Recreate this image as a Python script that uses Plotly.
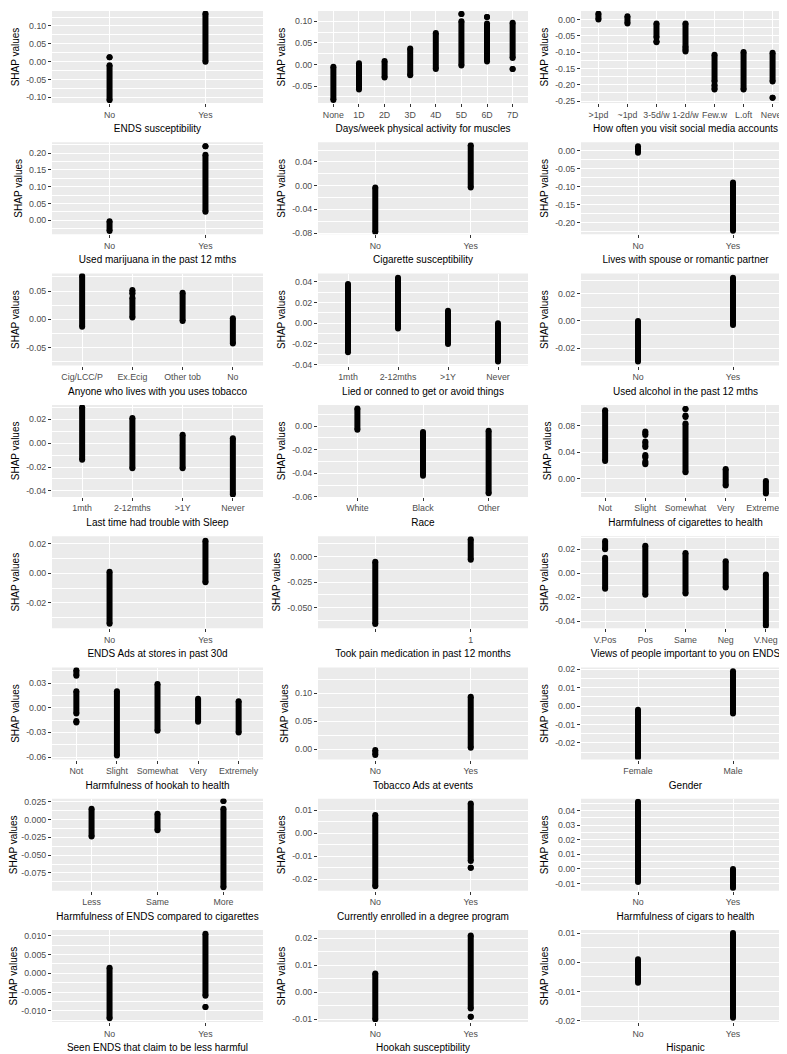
import plotly.graph_objects as go

# each panel: x title, category labels, y ticks (values, labels), y range,
# strips per category as (low, high) runs of overlapping points
titles = [
    "ENDS susceptibility", "Days/week physical activity for muscles", "How often you visit social media accounts",
    "Used marijuana in the past 12 mths", "Cigarette susceptibility", "Lives with spouse or romantic partner",
    "Anyone who lives with you uses tobacco", "Lied or conned to get or avoid things", "Used alcohol in the past 12 mths",
    "Last time had trouble with Sleep", "Race", "Harmfulness of cigarettes to health",
    "ENDS Ads at stores in past 30d", "Took pain medication in past 12 months", "Views of people important to you on ENDS",
    "Harmfulness of hookah to health", "Tobacco Ads at events", "Gender",
    "Harmfulness of ENDS compared to cigarettes", "Currently enrolled in a degree program", "Harmfulness of cigars to health",
    "Seen ENDS that claim to be less harmful", "Hookah susceptibility", "Hispanic",
]

categories = [
    ["No", "Yes"], ["None", "1D", "2D", "3D", "4D", "5D", "6D", "7D"],
    [">1pd", "~1pd", "3-5d/w", "1-2d/w", "Few.w", "L.oft", "Never"],
    ["No", "Yes"], ["No", "Yes"], ["No", "Yes"],
    ["Cig/LCC/P", "Ex.Ecig", "Other tob", "No"], ["1mth", "2-12mths", ">1Y", "Never"], ["No", "Yes"],
    ["1mth", "2-12mths", ">1Y", "Never"], ["White", "Black", "Other"], ["Not", "Slight", "Somewhat", "Very", "Extremely"],
    ["No", "Yes"], ["", "1"], ["V.Pos", "Pos", "Same", "Neg", "V.Neg"],
    ["Not", "Slight", "Somewhat", "Very", "Extremely"], ["No", "Yes"], ["Female", "Male"],
    ["Less", "Same", "More"], ["No", "Yes"], ["No", "Yes"],
    ["No", "Yes"], ["No", "Yes"], ["No", "Yes"],
]

yticks = [
    [-0.10, -0.05, 0.0, 0.05, 0.10], [-0.05, 0.0, 0.05, 0.10], [-0.25, -0.20, -0.15, -0.10, -0.05, 0.0],
    [0.0, 0.05, 0.10, 0.15, 0.20], [-0.08, -0.04, 0.0, 0.04], [-0.20, -0.15, -0.10, -0.05, 0.0],
    [-0.05, 0.0, 0.05], [-0.04, -0.02, 0.0, 0.02, 0.04], [-0.02, 0.0, 0.02],
    [-0.04, -0.02, 0.0, 0.02], [-0.06, -0.04, -0.02, 0.0], [0.0, 0.04, 0.08],
    [-0.02, 0.0, 0.02], [-0.05, -0.025, 0.0], [-0.04, -0.02, 0.0, 0.02],
    [-0.06, -0.03, 0.0, 0.03], [0.0, 0.05, 0.10], [-0.02, -0.01, 0.0, 0.01, 0.02],
    [-0.075, -0.05, -0.025, 0.0, 0.025], [-0.02, -0.01, 0.0, 0.01], [-0.01, 0.0, 0.01, 0.02, 0.03, 0.04],
    [-0.010, -0.005, 0.0, 0.005, 0.010], [-0.01, 0.0, 0.01, 0.02], [-0.02, -0.01, 0.0, 0.01],
]

ytick_labels = [
    ["-0.10", "-0.05", "0.00", "0.05", "0.10"], ["-0.05", "0.00", "0.05", "0.10"],
    ["-0.25", "-0.20", "-0.15", "-0.10", "-0.05", "0.00"],
    ["0.00", "0.05", "0.10", "0.15", "0.20"], ["-0.08", "-0.04", "0.00", "0.04"],
    ["-0.20", "-0.15", "-0.10", "-0.05", "0.00"],
    ["-0.05", "0.00", "0.05"], ["-0.04", "-0.02", "0.00", "0.02", "0.04"], ["-0.02", "0.00", "0.02"],
    ["-0.04", "-0.02", "0.00", "0.02"], ["-0.06", "-0.04", "-0.02", "0.00"], ["0.00", "0.04", "0.08"],
    ["-0.02", "0.00", "0.02"], ["-0.050", "-0.025", "0.000"], ["-0.04", "-0.02", "0.00", "0.02"],
    ["-0.06", "-0.03", "0.00", "0.03"], ["0.00", "0.05", "0.10"], ["-0.02", "-0.01", "0.00", "0.01", "0.02"],
    ["-0.075", "-0.050", "-0.025", "0.000", "0.025"], ["-0.02", "-0.01", "0.00", "0.01"],
    ["-0.01", "0.00", "0.01", "0.02", "0.03", "0.04"],
    ["-0.010", "-0.005", "0.000", "0.005", "0.010"], ["-0.01", "0.00", "0.01", "0.02"],
    ["-0.02", "-0.01", "0.00", "0.01"],
]

yranges = [
    (-0.116, 0.142), (-0.089, 0.124), (-0.256, 0.026),
    (-0.042, 0.232), (-0.082, 0.073), (-0.232, 0.024),
    (-0.082, 0.081), (-0.041, 0.048), (-0.033, 0.035),
    (-0.045, 0.032), (-0.06, 0.018), (-0.027, 0.111),
    (-0.037, 0.025), (-0.07, 0.02), (-0.046, 0.031),
    (-0.063, 0.049), (-0.018, 0.146), (-0.029, 0.021),
    (-0.1, 0.029), (-0.025, 0.015), (-0.015, 0.048),
    (-0.013, 0.0115), (-0.011, 0.023), (-0.0205, 0.011),
]

strips = [
    [[(-0.108, -0.01), (0.012, 0.012)], [(0.0, 0.135)]],
    [[(-0.082, -0.005)], [(-0.058, 0.003)], [(-0.03, 0.008)], [(-0.025, 0.037)], [(-0.01, 0.073)],
     [(-0.002, 0.10), (0.117, 0.117)], [(0.007, 0.095), (0.11, 0.11)], [(-0.01, -0.01), (0.015, 0.097)]],
    [[(0.0, 0.018)], [(-0.012, 0.01)], [(-0.07, -0.066), (-0.055, -0.012)], [(-0.098, -0.09), (-0.085, -0.012)],
     [(-0.215, -0.2), (-0.19, -0.108)], [(-0.215, -0.1)], [(-0.24, -0.24), (-0.19, -0.102)]],
    [[(-0.032, -0.003)], [(0.025, 0.195), (0.22, 0.22)]],
    [[(-0.078, -0.003)], [(-0.003, 0.068)]],
    [[(-0.005, 0.013)], [(-0.222, -0.088)]],
    [[(-0.013, 0.077)], [(0.003, 0.038), (0.045, 0.052)], [(-0.003, 0.047)], [(-0.043, 0.002)]],
    [[(-0.028, 0.038)], [(-0.005, 0.044)], [(-0.02, 0.012)], [(-0.037, 0.0)]],
    [[(-0.03, 0.0)], [(-0.003, 0.032)]],
    [[(-0.014, 0.03)], [(-0.021, 0.021)], [(-0.021, 0.007)], [(-0.043, 0.004)]],
    [[(-0.003, 0.015)], [(-0.042, -0.005)], [(-0.057, -0.004)]],
    [[(0.027, 0.103)], [(0.022, 0.026), (0.032, 0.036), (0.048, 0.056), (0.066, 0.071)],
     [(0.01, 0.083), (0.093, 0.095), (0.105, 0.105)], [(-0.01, 0.015)], [(-0.022, -0.003)]],
    [[(-0.034, 0.001)], [(-0.006, 0.022)]],
    [[(-0.066, -0.005)], [(-0.003, 0.017)]],
    [[(-0.013, 0.013), (0.02, 0.027)], [(-0.018, 0.023)], [(-0.017, 0.017)], [(-0.012, 0.01)], [(-0.044, -0.001)]],
    [[(-0.018, -0.016), (-0.007, 0.02), (0.039, 0.046)], [(-0.058, 0.02)], [(-0.028, 0.029)], [(-0.017, 0.011)],
     [(-0.03, 0.008)]],
    [[(-0.01, -0.001)], [(0.003, 0.094)]],
    [[(-0.028, -0.002)], [(-0.004, 0.019)]],
    [[(-0.024, 0.015)], [(-0.015, 0.008)], [(-0.095, 0.015), (0.026, 0.026)]],
    [[(-0.023, 0.008)], [(-0.015, -0.015), (-0.012, 0.013)]],
    [[(-0.009, 0.046)], [(-0.013, 0.0)]],
    [[(-0.012, 0.0015)], [(-0.009, -0.009), (-0.006, 0.0105)]],
    [[(-0.01, 0.007)], [(-0.009, -0.009), (-0.006, 0.021)]],
    [[(-0.007, 0.001)], [(-0.019, 0.01)]],
]

W, H = 787, 1054
col_px = [(44, 255), (310, 520), (573, 782)]
row_top0, row_pitch, plot_h = 3, 131.3, 92

GREY = "#EBEBEB"
TXT = "#4D4D4D"
TICKFONT = dict(size=8.8, color=TXT)
TITLEFONT = dict(size=10, color="black")
fig = go.Figure()
layout = {}

for i in range(24):
    r, c = divmod(i, 3)
    n = i + 1
    xa = "x" if n == 1 else f"x{n}"
    ya = "y" if n == 1 else f"y{n}"
    xs, ys = [], []
    for k, runs in enumerate(strips[i]):
        for lo, hi in runs:
            xs += [k + 1, k + 1, None]
            ys += [lo, hi, None]
    fig.add_trace(go.Scatter(
        x=xs, y=ys, xaxis=xa, yaxis=ya, mode="lines+markers",
        line=dict(color="black", width=6), marker=dict(color="black", size=6),
        showlegend=False, hoverinfo="skip"))

    top = row_top0 + r * row_pitch
    x0, x1 = col_px[c]
    ncat = len(categories[i])
    tv = yticks[i]
    step = tv[1] - tv[0]
    minor = [tv[0] - step / 2] + [v + step / 2 for v in tv]
    layout[("xaxis" if n == 1 else f"xaxis{n}")] = dict(
        domain=[x0 / W, x1 / W], anchor=ya, range=[0.4, ncat + 0.6],
        tickvals=list(range(1, ncat + 1)), ticktext=categories[i], tickangle=0,
        showgrid=True, gridcolor="white", gridwidth=1.1, zeroline=False,
        ticks="outside", ticklen=3, tickcolor="#333333", tickwidth=0.8,
        tickfont=TICKFONT, showline=False,
        title=dict(text=titles[i], font=TITLEFONT, standoff=6),
        automargin=False, fixedrange=True)
    layout[("yaxis" if n == 1 else f"yaxis{n}")] = dict(
        domain=[1 - (top + plot_h) / H, 1 - top / H], anchor=xa, range=list(yranges[i]),
        tickmode="array", tickvals=tv, ticktext=ytick_labels[i],
        showgrid=True, gridcolor="white", gridwidth=1.1, zeroline=False,
        ticks="outside", ticklen=3, tickcolor="#333333", tickwidth=0.8,
        tickfont=TICKFONT,
        minor=dict(tickmode="array", tickvals=minor, showgrid=True, gridcolor="white",
                   gridwidth=0.5, ticks=""),
        title=dict(text="SHAP values", font=TITLEFONT, standoff=4),
        automargin=False, fixedrange=True)
    layout.setdefault("shapes", []).append(dict(
        type="rect", xref="paper", yref="paper", layer="below",
        x0=x0 / W, x1=x1 / W, y0=1 - (top + plot_h) / H, y1=1 - top / H,
        fillcolor=GREY, line=dict(width=0)))

fig.update_layout(
    width=W, height=H, margin=dict(l=0, r=0, t=0, b=0),
    paper_bgcolor="white", plot_bgcolor="rgba(0,0,0,0)",
    font=dict(family="Liberation Sans, Arial, sans-serif"),
    **layout)

fig.write_html("out.html")
